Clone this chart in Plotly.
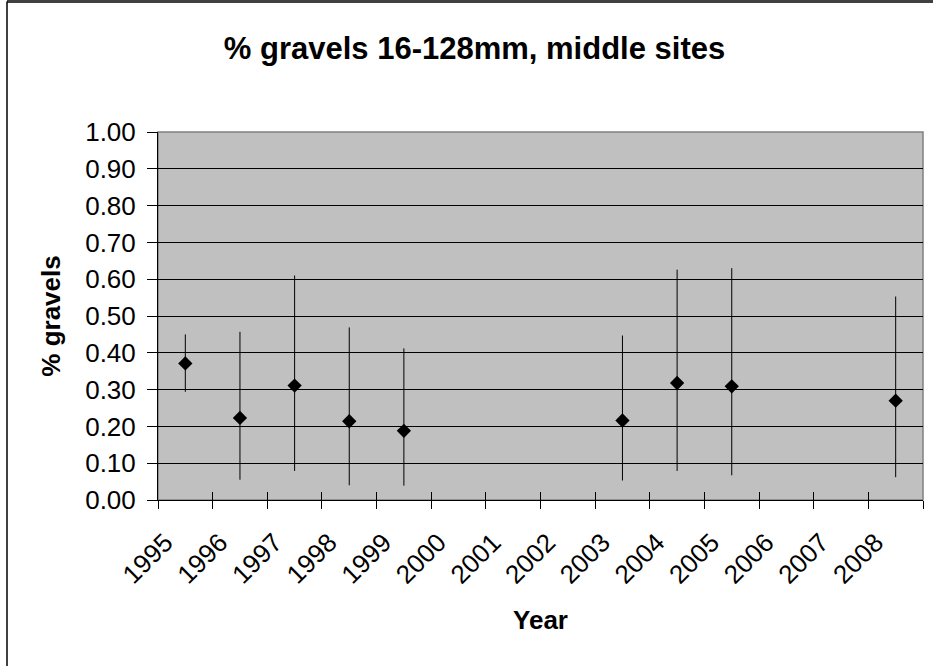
import plotly.graph_objects as go

# ---- data ----
all_years = ["1995", "1996", "1997", "1998", "1999", "2000", "2001",
             "2002", "2003", "2004", "2005", "2006", "2007", "2008"]
years = ["1995", "1996", "1997", "1998", "1999", "2003", "2004", "2005", "2008"]
mean_pct = [0.371, 0.223, 0.311, 0.214, 0.188, 0.216, 0.318, 0.309, 0.270]
upper = [0.450, 0.457, 0.610, 0.469, 0.412, 0.447, 0.626, 0.630, 0.553]
lower = [0.294, 0.055, 0.079, 0.040, 0.039, 0.053, 0.079, 0.067, 0.062]
y_ticks = [0.0, 0.1, 0.2, 0.3, 0.4, 0.5, 0.6, 0.7, 0.8, 0.9, 1.0]

err_plus = [u - m for u, m in zip(upper, mean_pct)]
err_minus = [m - l for m, l in zip(mean_pct, lower)]

FONT = "Liberation Sans, Arial, sans-serif"
W, H = 933, 666
ML, MR, MT, MB = 158, 10, 132, 166

fig = go.Figure()
fig.add_trace(go.Scatter(
    x=years, y=mean_pct, mode="markers",
    marker=dict(symbol="diamond", size=11, color="black", line=dict(width=0)),
    error_y=dict(type="data", symmetric=False, array=err_plus, arrayminus=err_minus,
                 color="black", thickness=1, width=0),
    showlegend=False, hoverinfo="x+y",
))
# invisible helper trace for inward tick marks axis
fig.add_trace(go.Scatter(
    x=years, y=mean_pct, mode="markers", xaxis="x2",
    marker=dict(opacity=0), showlegend=False, hoverinfo="skip",
))

xcommon = dict(type="category", categoryorder="array", categoryarray=all_years,
               range=[-0.5, len(all_years) - 0.5], tickson="boundaries",
               showgrid=False, zeroline=False, fixedrange=True)

fig.update_layout(
    width=W, height=H,
    margin=dict(l=ML, r=MR, t=MT, b=MB),
    paper_bgcolor="white", plot_bgcolor="#C0C0C0",
    font=dict(family=FONT, color="black", size=26),
    title=dict(text="<b>% gravels 16-128mm, middle sites</b>",
               font=dict(family=FONT, size=31, color="black"),
               xref="container", x=474.5 / W, xanchor="center",
               yref="container", y=1 - 48 / H, yanchor="middle"),
    xaxis=dict(**xcommon, ticks="outside", ticklen=8, tickwidth=1, tickcolor="black",
               showline=True, linecolor="black", linewidth=1,
               tickangle=-45, tickfont=dict(family=FONT, size=26, color="black"),
               ticklabelshift=-20, ticklabelstandoff=16,
               title=dict(text="<b>Year</b>", font=dict(family=FONT, size=26, color="black"),
                          standoff=22)),
    xaxis2=dict(**xcommon, overlaying="x", anchor="y", side="bottom",
                ticks="inside", ticklen=8, tickwidth=1, tickcolor="black",
                showticklabels=False, showline=False),
    yaxis=dict(range=[0, 1], tickvals=y_ticks, tickformat=".2f",
               ticks="outside", ticklen=10, tickwidth=1, tickcolor="black",
               showline=True, linecolor="black", linewidth=1,
               showgrid=True, gridcolor="black", gridwidth=1, zeroline=False,
               tickfont=dict(family=FONT, size=26, color="black"),
               ticklabelstandoff=6, fixedrange=True,
               title=dict(text="<b>% gravels</b>", font=dict(family=FONT, size=26, color="black"),
                          standoff=17)),
    shapes=[
        dict(type="rect", xref="x domain", yref="y domain", x0=0, x1=1, y0=0, y1=1,
             line=dict(color="#808080", width=1.5), layer="below"),
        # chart frame (top and left edges)
        dict(type="line", xref="paper", yref="paper",
             x0=(7 - ML) / (W - ML - MR), x1=(W - ML) / (W - ML - MR),
             y0=(H - MB - 1.5) / (H - MT - MB), y1=(H - MB - 1.5) / (H - MT - MB),
             line=dict(color="#404040", width=3)),
        dict(type="line", xref="paper", yref="paper",
             x0=(7 - ML) / (W - ML - MR), x1=(7 - ML) / (W - ML - MR),
             y0=(H - MB - 1.5) / (H - MT - MB), y1=-MB / (H - MT - MB),
             line=dict(color="black", width=1.5)),
    ],
)

fig.write_html("out.html", config={"displayModeBar": False},
               post_script="document.body.style.margin='0';document.body.style.overflow='hidden';")
